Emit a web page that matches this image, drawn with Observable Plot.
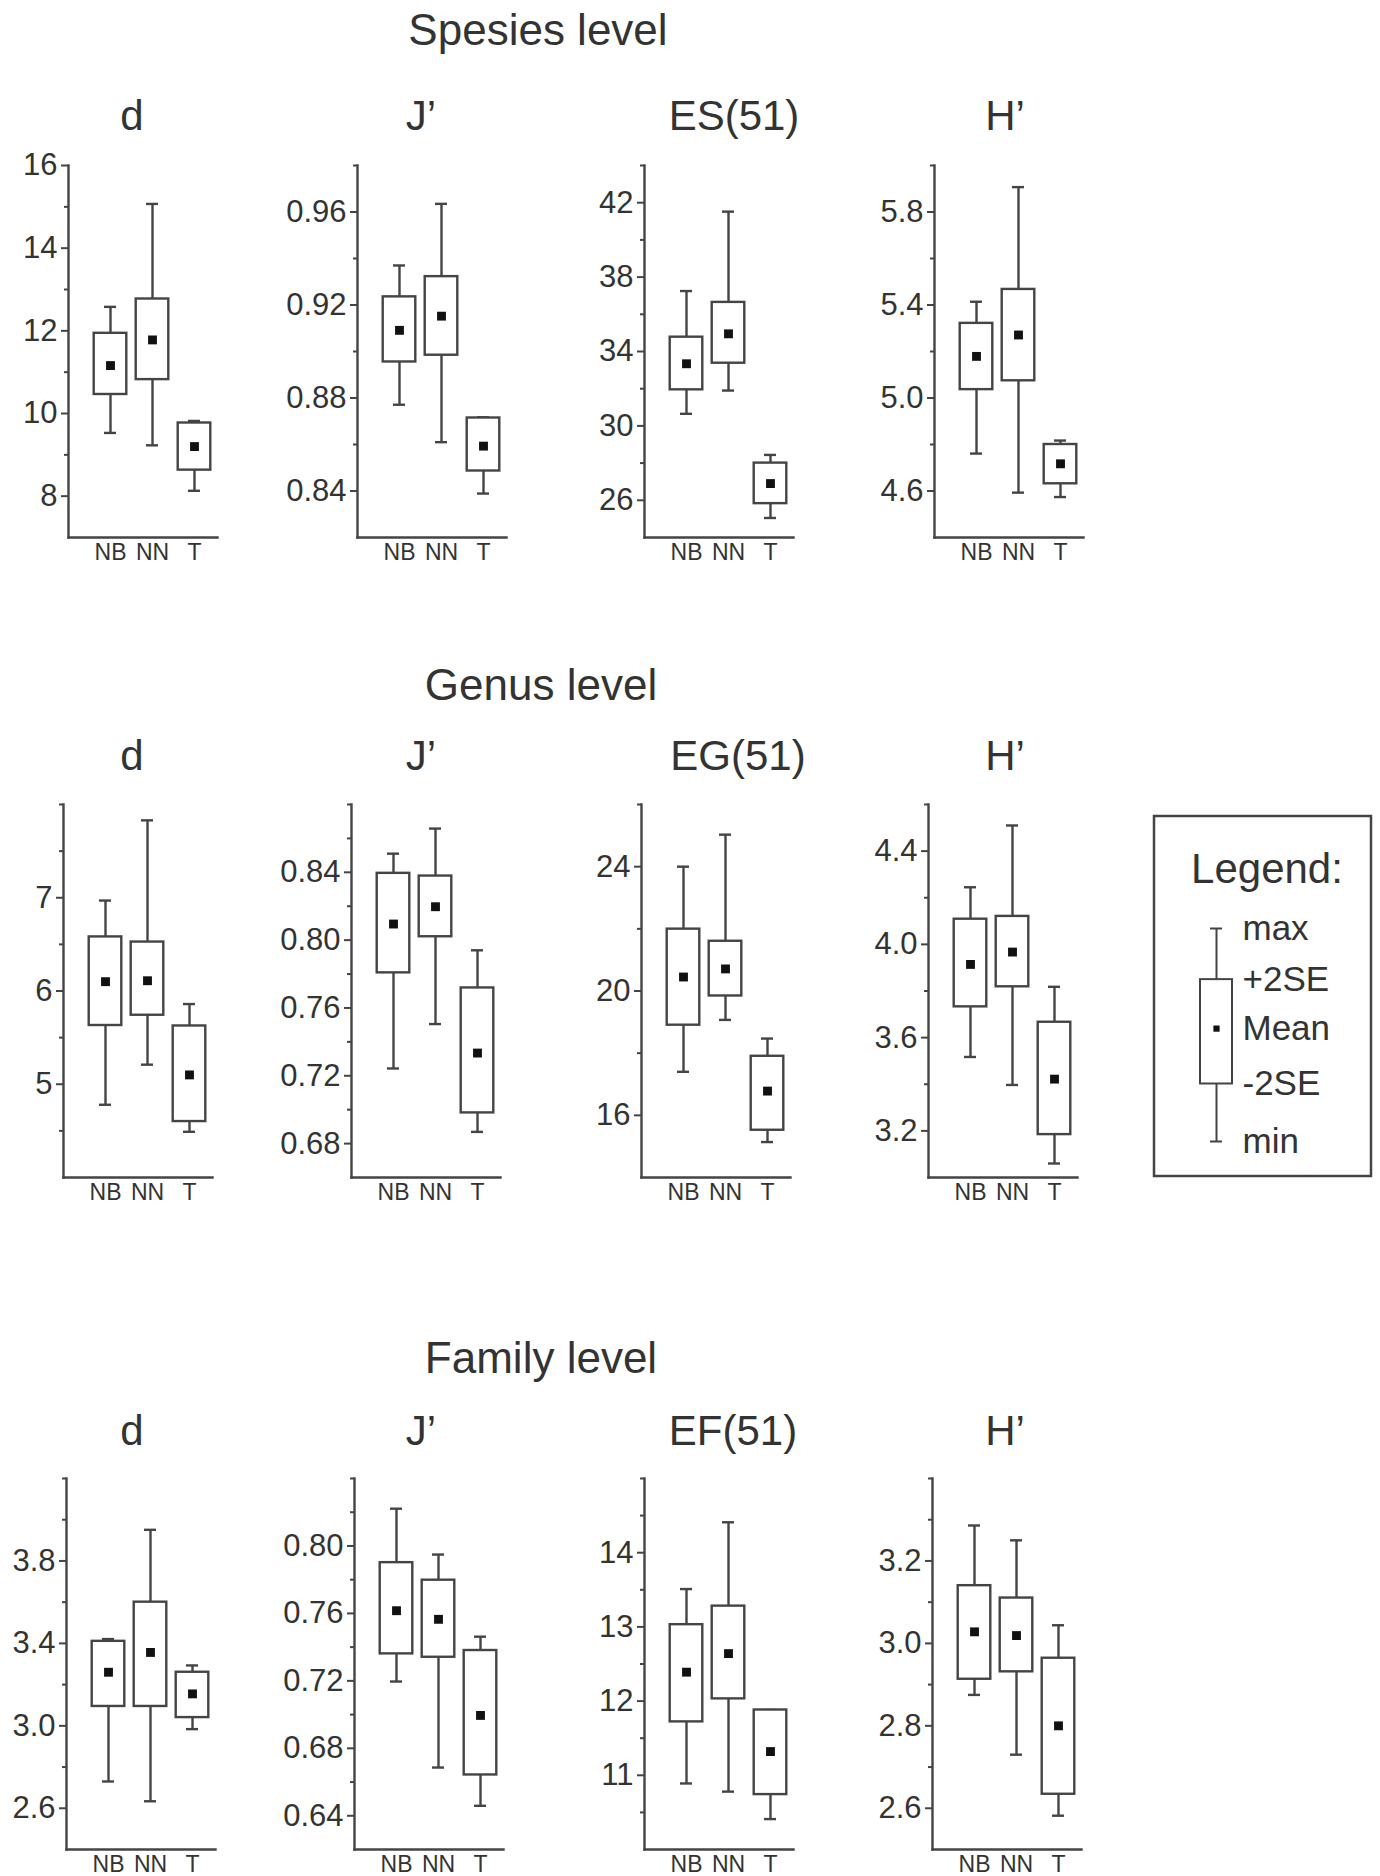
<!DOCTYPE html>
<html><head><meta charset="utf-8">
<script src="https://cdn.jsdelivr.net/npm/d3@7"></script>
<script src="https://cdn.jsdelivr.net/npm/@observablehq/plot@0.6"></script>
<style>
body{margin:0;background:#fff;}
#page{position:relative;width:1380px;height:1876px;overflow:hidden;}
.panel{position:absolute;}
</style></head><body><div id="page"></div><script>
const groups = ["NB","NN","T"];
// each row: [min, -2SE, mean, +2SE, max] for NB, NN, T
const spesiesD  = [[9.53,10.46,11.16,11.94,12.58],[9.23,10.82,11.78,12.77,15.07],[8.13,8.63,9.20,9.77,9.82]];
const spesiesJ  = [[0.8771,0.8955,0.9091,0.9235,0.9370],[0.8610,0.8984,0.9152,0.9322,0.9635],[0.8389,0.8486,0.8593,0.8714,0.8717]];
const spesiesES = [[30.65,31.94,33.34,34.77,37.25],[31.90,33.37,34.95,36.64,41.52],[25.05,25.82,26.90,28.00,28.44]];
const spesiesH  = [[4.761,5.036,5.179,5.321,5.414],[4.593,5.074,5.271,5.467,5.907],[4.574,4.631,4.717,4.800,4.817]];
const genusD  = [[4.78,5.63,6.10,6.58,6.97],[5.21,5.74,6.11,6.525,7.83],[4.49,4.60,5.10,5.625,5.86]];
const genusJ  = [[0.7243,0.7807,0.8095,0.8394,0.8510],[0.7505,0.8020,0.8197,0.8378,0.8658],[0.6869,0.6981,0.7334,0.7718,0.7940]];
const genusEG = [[17.40,18.90,20.45,21.99,24.00],[19.07,19.84,20.71,21.60,25.03],[15.14,15.52,16.78,17.90,18.47]];
const genusH  = [[3.517,3.732,3.914,4.108,4.245],[3.397,3.818,3.967,4.120,4.510],[3.060,3.184,3.422,3.666,3.818]];
const familyD  = [[2.730,3.094,3.260,3.410,3.421],[2.634,3.094,3.356,3.600,3.951],[2.984,3.040,3.155,3.260,3.293]];
const familyJ  = [[0.7196,0.7360,0.7616,0.7901,0.8221],[0.6686,0.7340,0.7565,0.7797,0.7949],[0.6459,0.6642,0.6995,0.7380,0.7462]];
const familyEF = [[10.89,11.72,12.39,13.03,13.51],[10.78,12.03,12.64,13.28,14.41],[10.41,10.74,11.32,11.88,11.88]];
const familyH  = [[2.875,2.913,3.028,3.140,3.286],[2.730,2.931,3.019,3.110,3.250],[2.582,2.634,2.800,2.964,3.044]];

// axis domains, labelled ticks, minor ticks
const spesiesDDomain = [7,16],   spesiesDTicks = [8,10,12,14,16],        spesiesDMinor = [9,11,13,15];
const spesiesJDomain = [0.82,0.98], spesiesJTicks = [0.84,0.88,0.92,0.96], spesiesJMinor = [0.86,0.90,0.94,0.98];
const spesiesESDomain = [24,44], spesiesESTicks = [26,30,34,38,42],       spesiesESMinor = [28,32,36,40,44];
const spesiesHDomain = [4.4,6.0], spesiesHTicks = [4.6,5.0,5.4,5.8],       spesiesHMinor = [4.8,5.2,5.6,6.0];
const genusDDomain = [4,8],      genusDTicks = [5,6,7],                   genusDMinor = [4.5,5.5,6.5,7.5,8];
const genusJDomain = [0.66,0.88], genusJTicks = [0.68,0.72,0.76,0.80,0.84], genusJMinor = [0.70,0.74,0.78,0.82,0.86,0.88];
const genusEGDomain = [14,26],   genusEGTicks = [16,20,24],               genusEGMinor = [18,22,26];
const genusHDomain = [3.0,4.6],  genusHTicks = [3.2,3.6,4.0,4.4],         genusHMinor = [3.4,3.8,4.2,4.6];
const familyDDomain = [2.4,4.2], familyDTicks = [2.6,3.0,3.4,3.8],        familyDMinor = [2.8,3.2,3.6,4.0,4.2];
const familyJDomain = [0.62,0.84], familyJTicks = [0.64,0.68,0.72,0.76,0.80], familyJMinor = [0.66,0.70,0.74,0.78,0.82,0.84];
const familyEFDomain = [10,15],  familyEFTicks = [11,12,13,14],           familyEFMinor = [10.5,11.5,12.5,13.5,14.5,15];
const familyHDomain = [2.5,3.4], familyHTicks = [2.6,2.8,3.0,3.2],        familyHMinor = [2.7,2.9,3.1,3.3,3.4];

const rowTitles = ["Spesies level","Genus level","Family level"];
const colTitles = [["d","J’","ES(51)","H’"],["d","J’","EG(51)","H’"],["d","J’","EF(51)","H’"]];
const legendKeys = ["max","+2SE","Mean","-2SE","min"];
const legendVals = [10, 7.6, 5.3, 2.7, 0]; // schematic key box

const FONT = "'Liberation Sans', Arial, Helvetica, sans-serif";
const LINE = "#444";
const TEXT = "#333";
const SW = 2.4;

const panels = [
  [{data: spesiesD, domain: spesiesDDomain, ticks: spesiesDTicks, minor: spesiesDMinor, fmt: "d"},
   {data: spesiesJ, domain: spesiesJDomain, ticks: spesiesJTicks, minor: spesiesJMinor, fmt: ".2f"},
   {data: spesiesES, domain: spesiesESDomain, ticks: spesiesESTicks, minor: spesiesESMinor, fmt: "d"},
   {data: spesiesH, domain: spesiesHDomain, ticks: spesiesHTicks, minor: spesiesHMinor, fmt: ".1f"}],
  [{data: genusD, domain: genusDDomain, ticks: genusDTicks, minor: genusDMinor, fmt: "d"},
   {data: genusJ, domain: genusJDomain, ticks: genusJTicks, minor: genusJMinor, fmt: ".2f"},
   {data: genusEG, domain: genusEGDomain, ticks: genusEGTicks, minor: genusEGMinor, fmt: "d"},
   {data: genusH, domain: genusHDomain, ticks: genusHTicks, minor: genusHMinor, fmt: ".1f"}],
  [{data: familyD, domain: familyDDomain, ticks: familyDTicks, minor: familyDMinor, fmt: ".1f"},
   {data: familyJ, domain: familyJDomain, ticks: familyJTicks, minor: familyJMinor, fmt: ".2f"},
   {data: familyEF, domain: familyEFDomain, ticks: familyEFTicks, minor: familyEFMinor, fmt: "d"},
   {data: familyH, domain: familyHDomain, ticks: familyHTicks, minor: familyHMinor, fmt: ".1f"}]
];

// layout
const rowAxisX = [[68,357,644,934],[63,351,641,928],[66,354,644,932]];
const rowTop = [165, 804, 1478];
const rowH = [372, 373, 371];
const rowTitlePos = [[538,45],[541,700],[541,1373]];
const colTitleX = [[132,421,734,1005],[132,421,738,1005],[132,421,733,1005]];
const colTitleY = [130, 770, 1445];

const page = d3.select("#page");
const overlay = page.append("svg").attr("width",1380).attr("height",1876)
  .style("position","absolute").style("left","0px").style("top","0px")
  .style("font-family", FONT);

rowTitles.forEach((t,r) => {
  overlay.append("text").attr("x", rowTitlePos[r][0]).attr("y", rowTitlePos[r][1])
    .attr("text-anchor","middle").attr("font-size",44).attr("fill",TEXT).text(t);
  colTitles[r].forEach((c,i) => {
    overlay.append("text").attr("x", colTitleX[r][i]).attr("y", colTitleY[r])
      .attr("text-anchor","middle").attr("font-size",42).attr("fill",TEXT).text(c);
  });
});
// legend frame and heading
overlay.append("rect").attr("x",1154).attr("y",816).attr("width",217).attr("height",360)
  .attr("fill","none").attr("stroke",LINE).attr("stroke-width",2.5);
overlay.append("text").attr("x",1267).attr("y",883).attr("text-anchor","middle")
  .attr("font-size",42).attr("fill",TEXT).text("Legend:");

function panel(cfg, ax, top, h) {
  const ml = 82, mr = 8, mt = 12, mb = 40, fw = 149;
  const rows = groups.map((g,i) => ({g, min: cfg.data[i][0], lo: cfg.data[i][1], mean: cfg.data[i][2], hi: cfg.data[i][3], max: cfg.data[i][4]}));
  const fmt = d3.format(cfg.fmt);
  const chart = Plot.plot({
    width: ml + fw + mr, height: mt + h + mb,
    marginLeft: ml, marginRight: mr, marginTop: mt, marginBottom: mb,
    style: {fontFamily: FONT, background: "transparent", color: TEXT, overflow: "visible"},
    x: {type: "band", domain: groups, range: [ml + 20, ml + 147], padding: 0, label: null},
    y: {domain: cfg.domain, label: null},
    marks: [
      Plot.axisY({ticks: cfg.minor, tickSize: 4, tickFormat: () => "", stroke: LINE, strokeWidth: 2, label: null}),
      Plot.axisY({ticks: cfg.ticks, tickSize: 7, tickPadding: 4, tickFormat: fmt, fontSize: 31, stroke: LINE, strokeWidth: 2, fill: TEXT, label: null}),
      Plot.axisX({tickSize: 0, tickPadding: 6, fontSize: 23, fill: TEXT, label: null}),
      Plot.frame({anchor: "left", stroke: LINE, strokeWidth: SW}),
      Plot.frame({anchor: "bottom", stroke: LINE, strokeWidth: SW}),
      Plot.ruleX(rows, {x: "g", y1: "min", y2: "lo", stroke: LINE, strokeWidth: SW}),
      Plot.ruleX(rows, {x: "g", y1: "hi", y2: "max", stroke: LINE, strokeWidth: SW}),
      Plot.tickY(rows, {x: "g", y: "min", insetLeft: 15, insetRight: 15, stroke: LINE, strokeWidth: SW}),
      Plot.tickY(rows, {x: "g", y: "max", insetLeft: 15, insetRight: 15, stroke: LINE, strokeWidth: SW}),
      Plot.barY(rows, {x: "g", y1: "lo", y2: "hi", insetLeft: 4.7, insetRight: 4.7, fill: "white", stroke: LINE, strokeWidth: SW}),
      Plot.dot(rows, {x: "g", y: "mean", symbol: "square", r: 5, fill: "#111", stroke: "none"})
    ]
  });
  const div = page.append("div").attr("class","panel")
    .style("left", (ax - ml) + "px").style("top", (top - mt) + "px");
  div.node().appendChild(chart);
}

panels.forEach((row, r) => row.forEach((cfg, i) => panel(cfg, rowAxisX[r][i], rowTop[r], rowH[r])));

// legend key drawn with Plot
(function legend() {
  const left = 1160, top = 900, w = 210, hgt = 260;
  const mt = 28, mb = 19;
  const key = [{g: "k", min: legendVals[4], lo: legendVals[3], mean: legendVals[2], hi: legendVals[1], max: legendVals[0]}];
  const labels = legendKeys.map((k,i) => ({g: "k", k, v: legendVals[i]}));
  const chart = Plot.plot({
    width: w, height: hgt, marginTop: mt, marginBottom: mb, marginLeft: 0, marginRight: 0,
    style: {fontFamily: FONT, background: "transparent", color: TEXT, overflow: "visible"},
    x: {type: "band", domain: ["k"], range: [35, 77], padding: 0, axis: null},
    y: {domain: [0, 10], axis: null},
    marks: [
      Plot.ruleX(key, {x: "g", y1: "min", y2: "lo", stroke: LINE, strokeWidth: 2}),
      Plot.ruleX(key, {x: "g", y1: "hi", y2: "max", stroke: LINE, strokeWidth: 2}),
      Plot.tickY(key, {x: "g", y: "min", insetLeft: 15, insetRight: 15, stroke: LINE, strokeWidth: 2}),
      Plot.tickY(key, {x: "g", y: "max", insetLeft: 15, insetRight: 15, stroke: LINE, strokeWidth: 2}),
      Plot.barY(key, {x: "g", y1: "lo", y2: "hi", insetLeft: 5, insetRight: 5, fill: "white", stroke: LINE, strokeWidth: 2}),
      Plot.dot(key, {x: "g", y: "mean", symbol: "square", r: 3.5, fill: "#111", stroke: "none"}),
      Plot.text(labels, {x: "g", y: "v", text: "k", dx: 26, textAnchor: "start", fontSize: 35, fill: TEXT})
    ]
  });
  const div = page.append("div").attr("class","panel")
    .style("left", left + "px").style("top", top + "px");
  div.node().appendChild(chart);
})();
</script></body></html>
